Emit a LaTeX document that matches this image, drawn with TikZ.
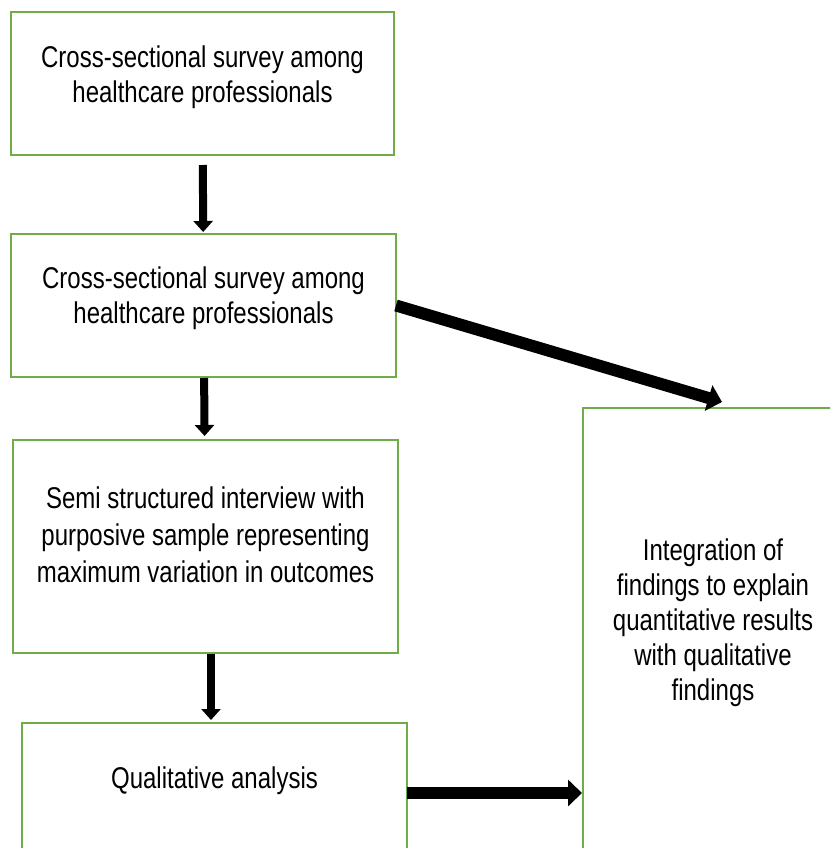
\documentclass[tikz,border=0pt]{standalone}
\usepackage{fontspec}
\newfontfamily\boxfont{Liberation Sans}[FakeStretch=0.8]
\usetikzlibrary{arrows.meta}
\definecolor{boxgreen}{RGB}{112,173,71}

\begin{document}
\begin{tikzpicture}[x=1pt, y=-1pt,
    box/.style = {rectangle, draw=boxgreen, line width=2.7pt,
                  inner sep=0pt, outer sep=0pt},
    txt/.style = {align=center, inner sep=0pt,
                  font=\boxfont\fontsize{30}{35}\selectfont},
    flow/.style = {line width=8pt,
                   -{Triangle[length=11pt, width=19pt]}},
    wideflow/.style = {line width=12pt,
                   -{Triangle[length=14pt, width=26pt]}},
    ]
\useasboundingbox (0,0) rectangle (830,848);
\clip (0,0) rectangle (830,848);
% boxes
\node [box, minimum width=383pt, minimum height=143pt] (survey)      at (202.5,83.5) {};
\node [box, minimum width=385pt, minimum height=143pt] (survey2)     at (203.5,305.5) {};
\node [box, minimum width=385pt, minimum height=213pt] (interview)   at (205.5,546.5) {};
\node [box, minimum width=385pt, minimum height=140pt] (analysis)    at (214.5,793) {};
\node [box, minimum width=267pt, minimum height=462pt] (integration) at (716.5,639) {};
% texts
\node [txt] (survey-txt)      at (202.5,77)  {Cross-sectional survey among\\healthcare professionals};
\node [txt] (survey2-txt)     at (203.5,298) {Cross-sectional survey among\\healthcare professionals};
\node [txt, font=\boxfont\fontsize{30}{37}\selectfont] (interview-txt) at (205.5,535) {Semi structured interview with\\purposive sample representing\\maximum variation in outcomes};
\node [txt] (analysis-txt)    at (214.5,781) {Qualitative analysis};
\node [txt] (integration-txt) at (713,623)   {Integration of\\findings to explain\\quantitative results\\with qualitative\\findings};
% arrows
\draw [flow, shorten <=10pt, shorten >=2pt] (survey) -- (survey2);
\draw [flow, shorten <=1pt, shorten >=4pt] (survey2) -- (interview);
\draw [flow, shorten <=1pt, shorten >=3pt] ([xshift=5.5pt]interview.south) -- ([xshift=-3.5pt]analysis.north);
\draw [wideflow] (survey2.east) -- ([xshift=5.5pt, yshift=6pt]integration.north);
\draw [wideflow, shorten >=1pt] (analysis.east) -- (analysis.east -| integration.west);
\end{tikzpicture}
\end{document}
